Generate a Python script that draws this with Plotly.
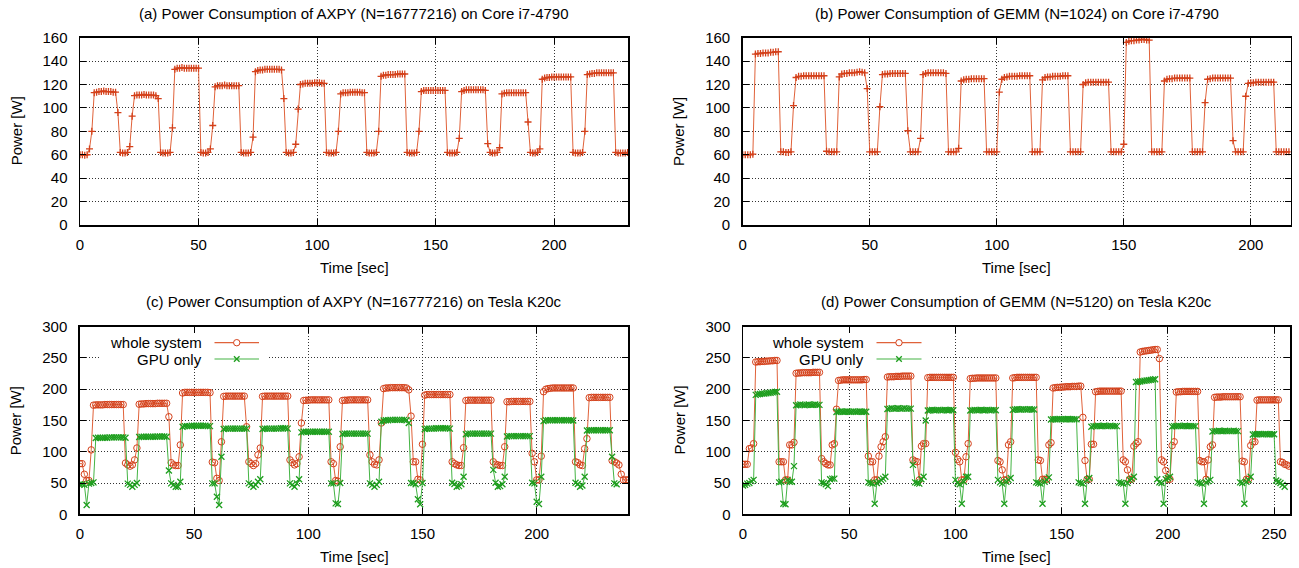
import plotly.graph_objects as go

W, H = 1299, 568

# ---------------- data (1 sample per second) ----------------
# (a) AXPY on Core i7-4790, power [W]
power_a = [
    60, 60, 59.5, 60, 65, 80, 113,
    113.5, 114, 114, 114.5, 114, 114, 114, 113.5, 113.5,
    96, 62, 61.5, 61.5, 62, 67, 93, 110.5,
    111, 111, 111, 111.5, 111, 111, 111, 111, 110.5,
    108, 62, 61.5, 61.5, 61.5, 62, 83, 133,
    134, 134, 134.5, 134, 134, 134, 134, 134, 134, 134,
    62, 61.5, 61.5, 62, 65, 85, 118,
    119, 119, 119, 119.5, 119, 119, 119, 119, 119, 119,
    62, 61.5, 61.5, 61.5, 62, 75, 131,
    132, 132.5, 132.5, 133, 133, 133, 133, 133, 133, 133, 132.5,
    108, 62, 61.5, 61.5, 62, 69, 99, 120,
    120.5, 121, 121, 121, 121, 121.5, 121.5, 121.5, 121, 121,
    62, 61.5, 61.5, 61.5, 62, 80, 112,
    113, 113, 113, 113.5, 113.5, 113.5, 113.5, 113.5, 113, 113,
    62, 61.5, 61.5, 61.5, 62, 80, 127,
    128, 128, 128.5, 128.5, 128.5, 128.5, 129, 129, 129, 129,
    62, 61.5, 61.5, 61.5, 62, 80, 114,
    115, 115, 115, 115, 115, 115, 115, 115, 115, 115,
    62, 61.5, 61.5, 61.5, 62, 74, 114,
    115, 115.5, 115.5, 115.5, 115.5, 115.5, 115.5, 115.5, 115.5, 115,
    69.5, 62, 61.5, 61.5, 62, 66, 112,
    112.5, 113, 113, 113, 113, 113, 113, 113, 113, 113,
    88, 62, 61.5, 61.5, 62, 65, 124.5,
    125.5, 126, 126, 126.5, 126.5, 126.5, 126.5, 126.5, 126.5, 126.5, 126.5, 126.5,
    62, 61.5, 61.5, 61.5, 62, 80, 128.5,
    129, 129.5, 129.5, 130, 130, 130, 130, 130, 130, 130, 130,
    62, 61.5, 61.5, 61.5, 61.5, 62,
]

# (b) GEMM on Core i7-4790, power [W]
power_b = [
    60, 60, 60, 60, 60.5, 146,
    146.5, 146.5, 147, 147, 147, 147.5, 147.5, 148, 148,
    62.5, 62.5, 62, 62, 62.5, 102, 126,
    127, 127, 127.5, 127.5, 127.5, 127.5, 127.5, 127.5, 127.5, 127.5, 127.5,
    63, 62.5, 62.5, 62.5, 62.5, 126.5,
    129, 129.5, 129.5, 130, 130, 130, 130.5, 131, 130.5, 130,
    116.5, 62.5, 62.5, 62.5, 62.5, 101, 128.5,
    129, 129, 129.5, 129.5, 129.5, 129.5, 129.5, 129.5, 129.5,
    80.5, 62.5, 62.5, 62.5, 62.5, 74, 128.5,
    129.5, 130, 130, 130, 130, 130, 130, 130, 129.5,
    62.5, 62.5, 62.5, 62.5, 65.5, 123,
    124, 124.5, 124.5, 125, 125, 125, 125, 125, 125,
    62.5, 62.5, 62.5, 62.5, 62.5, 113.5, 124.5,
    126, 126.5, 127, 127, 127, 127, 127.5, 127.5, 127.5, 127.5, 127.5,
    62.5, 62.5, 62.5, 62.5, 124,
    126, 126.5, 126.5, 127, 127, 127, 127, 127.5, 127.5, 127.5,
    62.5, 62.5, 62.5, 62.5, 62.5, 120,
    121.5, 122, 122, 122, 122, 122, 122, 122, 122, 122,
    62.5, 62.5, 62.5, 62.5, 62.5, 69, 156,
    157, 157.5, 157.5, 158, 158, 158.5, 158.5, 158, 158,
    62.5, 62.5, 62.5, 62.5, 62.5, 123,
    124.5, 125, 125, 125.5, 125.5, 125.5, 125.5, 125.5, 125.5, 125.5,
    62.5, 62.5, 62.5, 62.5, 62.5, 104.5, 124.5,
    125, 125.5, 125.5, 125.5, 125.5, 125.5, 125.5, 125.5, 125.5,
    72, 62.5, 62.5, 62.5, 62.5, 110, 121,
    121.5, 121.5, 122, 122, 122, 122, 122, 122, 122, 122,
    62.5, 62.5, 62.5, 62.5, 62.5, 62.5,
]

# (c) AXPY on Tesla K20c
whole_c = [
    81, 81, 64, 54, 54, 103,
    174.5, 175, 175, 175, 175, 175.5, 175.5, 175.5, 175.5, 175.5, 175.5, 175.5, 175.5, 175.5,
    82, 79, 77, 79, 87, 106,
    176, 176.5, 176.5, 177, 177, 177, 177, 177, 177.5, 177.5, 177.5, 177.5, 177.5,
    156, 82.5, 79, 78, 78, 111,
    194, 195, 195, 195, 195, 195, 195, 195, 195, 195, 195, 195, 194.5,
    83.5, 82.5, 57.5, 54, 116,
    188.5, 189, 189, 189, 189, 189, 189, 189, 189, 189,
    140, 84, 81, 78, 81, 95, 106,
    188.5, 189, 189, 189, 189, 189, 189, 189, 189, 189, 189, 189,
    87, 82.5, 79, 81, 92, 146,
    182, 182.5, 182.5, 183, 183, 183, 183, 183, 183, 183, 183, 183,
    84, 81, 54, 53, 108,
    182, 182.5, 182.5, 183, 183, 183, 183, 183, 183, 183, 183, 183,
    95, 84, 80, 79, 87, 146,
    201, 202, 202, 202.5, 202.5, 202.5, 202.5, 202.5, 202.5, 202.5, 202, 199,
    157, 84, 84, 56, 55, 112,
    190.5, 191.5, 191.5, 191.5, 191.5, 191.5, 191.5, 191.5, 191.5, 191.5, 191.5, 191.5,
    84, 81, 79, 78, 78, 106.5,
    182, 182.5, 182.5, 182.5, 182.5, 182.5, 182.5, 182.5, 182.5, 182.5, 182.5, 182.5,
    84, 80, 79, 78, 78, 108,
    180, 180, 180.5, 180.5, 180.5, 180.5, 180.5, 180.5, 180.5, 180.5, 180.5,
    97.5, 84, 55, 55, 93, 196,
    200, 201, 201.5, 202, 202, 202, 202, 202, 202, 202, 202, 202, 202,
    84, 82.5, 79, 78, 105, 121,
    186.5, 187, 187, 187, 187, 187, 187, 187, 187, 187,
    86, 84, 82, 79, 64, 55, 55, 55,
]
gpu_c = [
    48, 48, 47, 15, 49, 50, 51,
    122, 122.5, 122.5, 122.5, 122.5, 122.5, 123, 123, 123, 123, 123, 123, 123, 122.5,
    49, 47, 44, 47, 50,
    123.5, 124, 124, 124, 124, 124, 124, 124, 124.5, 124.5, 124.5, 124.5, 124,
    70, 49.5, 47, 44, 44, 52,
    140, 141, 141, 141, 141.5, 141.5, 141.5, 141.5, 141.5, 141.5, 141.5, 141, 141,
    49.5, 49.5, 28, 15, 92,
    136.5, 137, 137, 137, 137, 137, 137, 137, 137, 137, 137,
    49.5, 47, 44, 47, 52, 56,
    136.5, 137, 137, 137, 137, 137, 137, 137, 137.5, 137.5, 137.5, 137,
    49.5, 47, 44, 49.5, 56,
    131, 132, 132, 132, 132, 132, 132, 132, 132, 132, 132, 132, 132,
    49.5, 49.5, 17.5, 16.5, 50,
    128.5, 129, 129, 129, 129, 129, 129, 129, 129, 129, 129, 129,
    49.5, 47, 44, 47, 52,
    148, 150, 150.5, 150.5, 151, 151, 151, 151, 151, 151, 151, 150.5, 146,
    50, 50, 48, 24, 16, 50,
    136.5, 137, 137, 137, 137, 137.5, 137.5, 137.5, 137.5, 137.5, 137.5, 137,
    50.5, 48.5, 44, 45, 48, 60,
    128, 129, 129, 129, 129, 129, 129, 129, 129, 129, 129, 129,
    71, 50.5, 44, 45, 48, 60,
    124.5, 125, 125, 125, 125, 125, 125, 125, 125, 125, 125,
    50.5, 49.5, 20, 16.5, 60,
    149, 150.5, 150.5, 150.5, 150.5, 150.5, 150.5, 150.5, 150.5, 150.5, 150.5, 150.5, 150.5, 150,
    50.5, 48.5, 44, 46, 60,
    134, 134.5, 134.5, 134.5, 134.5, 134.5, 134.5, 134.5, 134.5, 134.5, 134.5,
    92, 49.5, 48,
]

# (d) GEMM on Tesla K20c
whole_d = [
    80, 80, 80, 105, 106, 113,
    243.5, 244, 244, 244.5, 244.5, 245, 245, 245.5, 245.5, 246, 246,
    84, 84, 84, 55, 55, 111, 111, 115,
    225.5, 226, 226, 226.5, 226.5, 226.5, 226.5, 226.5, 227, 227, 227, 227,
    89, 84, 81, 79, 79, 111, 113, 168,
    214, 214.5, 215, 215, 215, 215, 215, 215, 215, 215, 215, 215, 215.5, 215.5,
    93, 84, 84, 55, 55, 93, 108, 116, 124,
    219.5, 220, 220, 220, 220.5, 220.5, 220.5, 221, 221, 221, 221, 221,
    87, 85, 84, 55, 109, 113, 113,
    218.5, 219, 219, 219, 219, 219, 219, 219, 219, 219, 219, 219, 219,
    99, 88, 84, 55, 55, 92, 113,
    217, 217.5, 217.5, 218, 218, 218, 218, 218, 218, 218, 218, 218, 218,
    86, 84, 71, 55, 55, 111, 116,
    218, 218.5, 219, 219, 219, 219, 219, 219, 219, 219, 219, 219,
    87, 86, 56, 56, 56, 111, 114.5,
    202, 202.5, 203, 203, 203.5, 203.5, 204, 204, 204, 204.5, 204.5, 204.5, 205, 205,
    155, 86, 56, 56, 112, 112,
    196, 196.5, 197, 197, 197, 197, 197, 197, 197, 197, 197, 197, 197,
    87, 84, 71, 56, 56, 109, 113, 116,
    259.5, 260.5, 261, 261.5, 262, 262.5, 263, 263.5, 263.5,
    249, 87, 84, 70, 56, 56, 110, 116,
    195.5, 196, 196, 196.5, 196.5, 196.5, 196.5, 196.5, 196.5, 196.5, 196.5,
    86, 84, 84, 56, 87, 108, 111,
    187, 187.5, 187.5, 187.5, 188, 188, 188, 188, 188, 188, 188, 188, 188,
    85, 84, 56, 56, 110, 116, 116,
    182.5, 183, 183, 183, 183, 183, 183, 183, 183, 183, 183,
    84, 83, 80, 79, 77,
]
gpu_d = [
    46, 47, 49, 50, 53, 55,
    191, 192, 192.5, 193, 193, 193.5, 194, 194.5, 195, 195.5, 196,
    51, 52, 17, 16, 55, 52, 52, 77,
    174.5, 175, 175.5, 175, 174.5, 175, 175.5, 175, 175, 175.5, 175, 175,
    51, 50, 48, 45, 56, 57, 57,
    163.5, 164, 164.5, 164, 164, 164.5, 164, 164, 164.5, 164, 164, 164.5, 164, 164, 164,
    51, 50, 49, 17, 50, 52, 55, 57, 60,
    168.5, 169, 169.5, 169, 169, 169.5, 169, 169, 169.5, 169, 169, 169,
    79, 51, 50, 49, 56, 60, 150,
    166, 166.5, 167, 166.5, 166.5, 167, 166.5, 166.5, 167, 166.5, 166.5, 167, 166.5,
    55, 50, 48, 17, 52, 60, 60,
    166, 166.5, 167, 166.5, 166.5, 167, 166.5, 166.5, 167, 166.5, 166.5, 167, 166.5,
    55, 51, 49, 17, 52, 55, 58,
    167, 167.5, 168, 167.5, 167.5, 168, 167.5, 167.5, 168, 167.5, 167.5,
    51, 50, 49, 17, 52, 55, 59,
    151.5, 152, 152, 152, 152.5, 152, 152, 152, 152.5, 152, 152, 152, 152,
    51, 50, 49, 17, 55, 58, 140,
    141, 141, 141.5, 141, 141, 141.5, 141, 141, 141.5, 141, 141, 141,
    51, 50, 49, 17, 50, 55, 57, 60,
    211.5, 212, 212.5, 213, 213.5, 214, 214.5, 215, 215.5, 216,
    56, 51, 50, 17, 56, 58, 60,
    140.5, 141, 141, 141.5, 141, 141, 141.5, 141, 141, 141, 141, 141,
    51, 50, 49, 17, 51, 53, 55,
    132.5, 133, 133, 133.5, 133, 133, 133.5, 133, 133, 133, 133.5, 133, 133,
    51, 50, 17, 52, 55, 60,
    127.5, 128, 128, 128.5, 128, 128, 128.5, 128, 128, 128, 128,
    54, 52, 50, 47, 44,
]

titles = [
    "(a) Power Consumption of AXPY (N=16777216) on Core i7-4790",
    "(b) Power Consumption of GEMM (N=1024) on Core i7-4790",
    "(c) Power Consumption of AXPY (N=16777216) on Tesla K20c",
    "(d) Power Consumption of GEMM (N=5120) on Tesla K20c",
]
legend_labels = ["whole system", "GPU only"]

# ---------------- style ----------------
RED = "#d4401a"
RED_LINE = "#e0623a"
GREEN = "#1e9e1e"
GREEN_LINE = "#44b444"
FONT = "Liberation Sans, Arial, sans-serif"
FS = 15

def PX(x):
    return x / W

def PY(y):
    return 1 - y / H

# panel pixel boxes: left, right, top, bottom
boxes = {
    "a": (80.0, 628.3, 37.7, 225.0),
    "b": (742.7, 1290.7, 37.7, 225.0),
    "c": (79.8, 628.3, 326.7, 514.3),
    "d": (743.0, 1290.0, 326.7, 514.3),
}
xranges = {"a": [0, 231.3], "b": [0, 215.7], "c": [0, 240.1], "d": [0, 257.5]}
yranges = {"a": [0, 160], "b": [0, 160], "c": [0, 300], "d": [0, 300]}
ydticks = {"a": 20, "b": 20, "c": 50, "d": 50}
axis_ids = {"a": "", "b": "2", "c": "3", "d": "4"}

fig = go.Figure()

def add(series, key, color, lcolor, symbol, size, lw):
    n = axis_ids[key]
    fig.add_trace(go.Scatter(
        x=list(range(len(series))), y=series,
        xaxis="x" + n, yaxis="y" + n,
        mode="lines+markers",
        line=dict(color=lcolor, width=1),
        marker=dict(symbol=symbol, size=size, color=color,
                    line=dict(color=color, width=lw)),
        showlegend=False, hoverinfo="skip",
    ))

add(power_a, "a", RED, RED_LINE, "cross-thin", 5, 1.3)
add(power_b, "b", RED, RED_LINE, "cross-thin", 5, 1.3)
add(whole_c, "c", RED, RED_LINE, "circle-open", 6.5, 1)
add(gpu_c, "c", GREEN, GREEN_LINE, "x-thin", 6, 1.3)
add(whole_d, "d", RED, RED_LINE, "circle-open", 6.5, 1)
add(gpu_d, "d", GREEN, GREEN_LINE, "x-thin", 6, 1.3)

common = dict(
    ticks="inside", ticklen=6, tickwidth=1, tickcolor="black",
    showline=True, linecolor="black", linewidth=1.5, mirror="allticks",
    showgrid=True, gridcolor="#333333", griddash="1px,2px", gridwidth=1,
    zeroline=False, tickfont=dict(family=FONT, size=FS, color="black"),
    automargin=False,
)

layout = dict(
    width=W, height=H, margin=dict(l=0, r=0, t=0, b=0, pad=0, autoexpand=False),
    paper_bgcolor="white", plot_bgcolor="white", showlegend=False,
    font=dict(family=FONT, size=FS, color="black"),
)
annotations = []
shapes = []
for key, (l, r, t, b) in boxes.items():
    n = axis_ids[key]
    layout["xaxis" + n] = dict(common, domain=[PX(l), PX(r)], range=xranges[key],
                               dtick=50, tick0=0, anchor="y" + n,
                               ticklabelstandoff=5)
    layout["yaxis" + n] = dict(common, domain=[PY(b), PY(t)], range=yranges[key],
                               dtick=ydticks[key], tick0=0, anchor="x" + n,
                               ticklabelstandoff=8)
    cx = (l + r) / 2
    cy = (t + b) / 2
    annotations.append(dict(text="Time [sec]", x=PX(cx), y=PY(b + 42), xref="paper", yref="paper",
                            showarrow=False, xanchor="center", yanchor="middle",
                            font=dict(family=FONT, size=FS)))
    annotations.append(dict(text="Power [W]", x=PX(l - 64), y=PY(cy), xref="paper", yref="paper",
                            showarrow=False, xanchor="center", yanchor="middle", textangle=-90,
                            font=dict(family=FONT, size=FS)))

title_keys = ["a", "b", "c", "d"]
title_y = {"a": 14, "b": 14, "c": 301, "d": 301}
for key, txt in zip(title_keys, titles):
    l, r, t, b = boxes[key]
    annotations.append(dict(text=txt, x=PX((l + r) / 2), y=PY(title_y[key]), xref="paper", yref="paper",
                            showarrow=False, xanchor="center", yanchor="middle",
                            font=dict(family=FONT, size=FS)))

# keys (legends) for panels c and d
key_geo = {
    "c": dict(text_right=203.5, line0=214.5, line1=259.0, box=(9.0, 82.5)),
    "d": dict(text_right=866.0, line0=876.5, line1=921.5, box=(10.6, 89.0)),
}
rows_y = [342.7, 359.0]
for key, g in key_geo.items():
    n = axis_ids[key]
    shapes.append(dict(type="rect", xref="x" + n, yref="y" + n, x0=g["box"][0], x1=g["box"][1],
                       y0=235.8, y1=299.5, fillcolor="white", line=dict(width=0), layer="between"))
    for i, (lab, col, lcol) in enumerate(zip(legend_labels, [RED, GREEN], [RED_LINE, GREEN_LINE])):
        yy = rows_y[i]
        annotations.append(dict(text=lab, x=PX(g["text_right"]), y=PY(yy), xref="paper", yref="paper",
                                showarrow=False, xanchor="right", yanchor="middle",
                                font=dict(family=FONT, size=FS)))
        shapes.append(dict(type="line", xref="paper", yref="paper", x0=PX(g["line0"]), x1=PX(g["line1"]),
                           y0=PY(yy), y1=PY(yy), line=dict(color=lcol, width=1.2), layer="above"))
        mx = (g["line0"] + g["line1"]) / 2
        if i == 0:
            rr = 3.2
            shapes.append(dict(type="circle", xref="paper", yref="paper",
                               x0=PX(mx - rr), x1=PX(mx + rr), y0=PY(yy + rr), y1=PY(yy - rr),
                               line=dict(color=col, width=1), fillcolor="white", layer="above"))
        else:
            d = 2.8
            for sgn in (1, -1):
                shapes.append(dict(type="line", xref="paper", yref="paper",
                                   x0=PX(mx - d), x1=PX(mx + d), y0=PY(yy - sgn * d), y1=PY(yy + sgn * d),
                                   line=dict(color=col, width=1.3), layer="above"))

layout["annotations"] = annotations
layout["shapes"] = shapes
fig.update_layout(**layout)

page_fix = (
    "document.documentElement.style.margin='0';"
    "document.documentElement.style.padding='0';"
    "document.documentElement.style.overflow='hidden';"
    "document.body.style.margin='0';"
    "document.body.style.padding='0';"
    "document.body.style.overflow='hidden';"
)
fig.write_html("out.html", post_script=page_fix,
               config={"displayModeBar": False, "staticPlot": True})
